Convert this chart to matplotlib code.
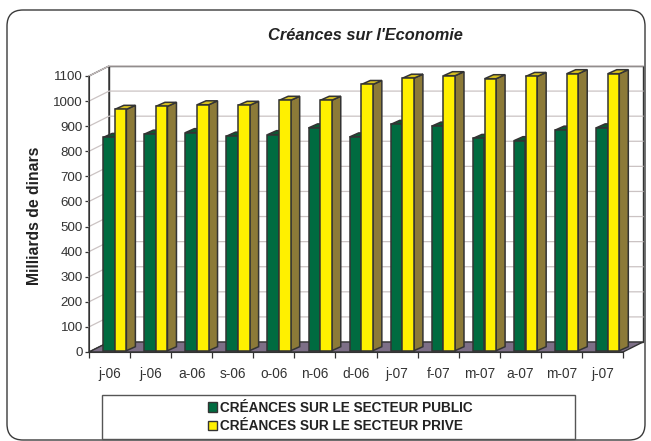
import matplotlib
matplotlib.use('Agg')
import matplotlib.pyplot as plt
from matplotlib.patches import Polygon, Rectangle, FancyBboxPatch, Patch

# ---------------- data ----------------
months = ['j-06', 'j-06', 'a-06', 's-06', 'o-06', 'n-06', 'd-06',
          'j-07', 'f-07', 'm-07', 'a-07', 'm-07', 'j-07']
public = [850, 863, 869, 855, 861, 888, 852, 902, 895, 846, 837, 879, 888]
prive = [962, 974, 980, 978, 998, 998, 1061, 1086, 1096, 1084, 1093, 1104, 1104]
yticks = list(range(0, 1101, 100))
series_names = ['CRÉANCES SUR LE SECTEUR PUBLIC', 'CRÉANCES SUR LE SECTEUR PRIVE']
title = "Créances sur l'Economie"
ylabel = 'Milliards de dinars'

plt.rcParams['font.family'] = ['Liberation Sans', 'DejaVu Sans']

W, H = 651, 441
fig = plt.figure(figsize=(W / 100, H / 100), dpi=100)

# background axes in pixel coordinates
bg = fig.add_axes([0, 0, 1, 1], zorder=0)
bg.set_xlim(0, W)
bg.set_ylim(H, 0)
bg.axis('off')
bg.add_patch(FancyBboxPatch((7, 10), 638, 430,
                            boxstyle='round,pad=0,rounding_size=16',
                            fc='white', ec='#3a3a3a', lw=1.0))
bg.text(365, 35, title, ha='center', va='center', fontsize=11.8,
        fontweight='bold', fontstyle='italic', color='#222222')
bg.text(35, 216, ylabel, ha='center', va='center', rotation=90,
        fontsize=11.3, fontweight='bold', color='#222222')

# legend box
bg.add_patch(Rectangle((102, 395), 473, 44, fc='white', ec='#555555', lw=1.0))

# ---------------- main axes ----------------
L, R, T, B = 89, 623, 76, 352
ax = fig.add_axes([L / W, 1 - B / H, (R - L) / W, (B - T) / H], zorder=1)
ax.patch.set_alpha(0)
n = len(months)
ax.set_xlim(-0.5, n - 0.5)
ax.set_ylim(0, 1100)

pxx = (R - L) / n          # px per x unit
pxy = (B - T) / 1100       # px per y unit
DX, DY = 20 / pxx, 10 / pxy          # wall depth
ddx, ddy = 9 / pxx, 4 / pxy          # bar depth
base = 1.3 / pxy
edge = '#333333'

x0, x1 = -0.5, n - 0.5
# left wall and back wall
ax.add_patch(Polygon([(x0, 0), (x0, 1100), (x0 + DX, 1100 + DY), (x0 + DX, DY)],
                     closed=True, fc='white', ec=edge, lw=1.0, clip_on=False, zorder=1))
ax.add_patch(Polygon([(x0 + DX, DY), (x0 + DX, 1100 + DY), (x1 + DX, 1100 + DY), (x1 + DX, DY)],
                     closed=True, fc='white', ec=edge, lw=1.0, clip_on=False, zorder=1))
# gridlines
for v in yticks[1:]:
    ax.plot([x0, x0 + DX, x1 + DX], [v, v + DY, v + DY], color='#cbc3c3',
            lw=0.9, clip_on=False, zorder=2)
# floor
ax.add_patch(Polygon([(x0, 0), (x1, 0), (x1 + DX, DY), (x0 + DX, DY)],
                     closed=True, fc='#7d6f87', ec=edge, lw=1.0, clip_on=False, zorder=3))

bw = 0.28
series = [
    (public, -0.155, '#006b40', '#0b5a32', '#004a2a'),
    (prive, 0.13, '#fff000', '#d6c020', '#8c7a38'),
]
z = 4
for i in range(n):
    for vals, off, cf, ct, cs in series:
        v = vals[i]
        xl = i + off
        xr = xl + bw
        top = base + v
        ax.add_patch(Polygon([(xr, base), (xr + ddx, base + ddy), (xr + ddx, top + ddy), (xr, top)],
                             closed=True, fc=cs, ec=edge, lw=1.1, clip_on=False, zorder=z))
        ax.add_patch(Polygon([(xl, top), (xr, top), (xr + ddx, top + ddy), (xl + ddx, top + ddy)],
                             closed=True, fc=ct, ec=edge, lw=1.1, clip_on=False, zorder=z))
        ax.bar(xl, v, width=bw, bottom=base, align='edge', color=cf, edgecolor=edge,
               lw=1.1, clip_on=False, zorder=z + 0.5)
        z += 1

# axes styling
for s in ['top', 'right']:
    ax.spines[s].set_visible(False)
ax.spines['left'].set_color(edge)
ax.spines['bottom'].set_color(edge)
ax.spines['left'].set_zorder(200)
ax.spines['bottom'].set_zorder(200)
ax.set_yticks(yticks)
ax.set_yticklabels([str(v) for v in yticks])
ax.tick_params(axis='y', length=3, width=0.9, color=edge, pad=1.5,
               labelsize=9.6, labelcolor='#333333')
ax.set_xticks([i - 0.5 for i in range(n + 1)])
ax.set_xticklabels([])
ax.set_xticks(list(range(n)), minor=True)
ax.set_xticklabels(months, minor=True)
ax.tick_params(axis='x', which='major', length=4, width=0.9, color=edge)
ax.tick_params(axis='x', which='minor', length=0, pad=10.5, labelsize=9.8, labelcolor='#333333')

handles = [Patch(fc='#006b40', ec=edge, lw=1.0), Patch(fc='#fff000', ec=edge, lw=1.0)]
fig.legend(handles, series_names, loc='center', bbox_to_anchor=(340 / W, 1 - 417 / H),
           frameon=False, handlelength=0.7, handleheight=0.7, handletextpad=0.2,
           labelspacing=0.35, prop={'size': 9.8, 'weight': 'bold'},
           labelcolor='#222222')

fig.savefig('out.png', dpi=100)
